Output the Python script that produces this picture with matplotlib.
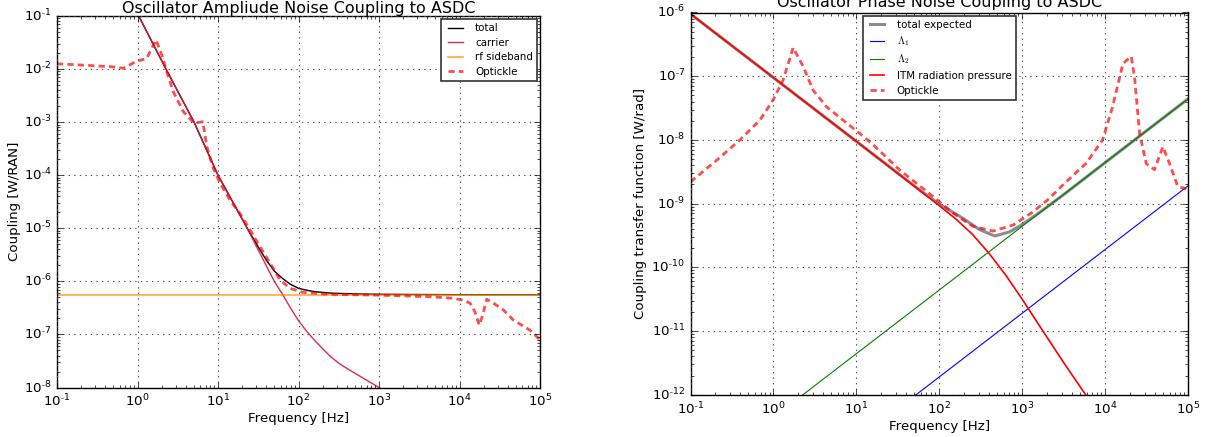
import numpy as np
import matplotlib
matplotlib.use("Agg")
import matplotlib.pyplot as plt
from matplotlib.ticker import FuncFormatter, LogLocator

plt.style.use("classic")
plt.rcParams["figure.facecolor"] = "white"
plt.rcParams["savefig.facecolor"] = "white"
plt.rcParams["lines.scale_dashes"] = False
plt.rcParams["font.family"] = ["DejaVu Sans"]

# ---------------- Left panel data: amplitude noise coupling ----------------
carrier_f = [0.5, 1.0, 2.26, 5.04, 10, 23.1, 31.6, 50.1, 63.1, 79.4, 100, 126, 158,
             200, 251, 316, 398, 501, 631, 794, 1000, 1585]
carrier_v = [0.89, 0.111, 1.0e-2, 1.0e-3, 1.0e-4, 1.0e-5, 3.9e-6, 1.0e-6, 5.75e-7,
             3.16e-7, 1.82e-7, 1.15e-7, 7.76e-8, 5.37e-8, 3.8e-8, 2.88e-8, 2.29e-8,
             1.86e-8, 1.51e-8, 1.23e-8, 1.0e-8, 6.3e-9]

total_f = [0.5, 1.0, 2.26, 5.04, 10, 23.1, 31.6, 39.8, 50.1, 63.1, 79.4, 100, 126,
           158, 251, 501, 1000, 1e4, 1e5]
total_v = [0.89, 0.111, 1.0e-2, 1.0e-3, 1.0e-4, 1.0e-5, 4.46e-6, 2.51e-6, 1.56e-6,
           1.14e-6, 8.8e-7, 7.4e-7, 6.8e-7, 6.4e-7, 6.0e-7, 5.8e-7, 5.7e-7, 5.6e-7, 5.6e-7]

rf_f = [0.1, 1e5]
rf_v = [5.6e-7, 5.6e-7]

opt_amp_f = [0.1, 0.251, 0.501, 0.667, 0.977, 1.30, 1.70, 2.0, 2.31, 2.79, 3.71, 5.04,
             6.46, 6.90, 7.24, 8.75, 10.6, 14.1, 18.7, 25.0, 33.3, 44.3, 58.9, 78.3,
             115, 245, 1000, 4730, 8320, 11170, 13490, 15490, 17620, 19410, 21780,
             26300, 35080, 46770, 59290, 75160, 95500, 1e5]
opt_amp_v = [1.26e-2, 1.17e-2, 1.10e-2, 1.035e-2, 1.41e-2, 1.58e-2, 3.55e-2, 1.86e-2,
             8.9e-3, 3.7e-3, 1.58e-3, 9.5e-4, 1.02e-3, 5.75e-4, 3.47e-4, 1.35e-4,
             7.1e-5, 3.4e-5, 1.9e-5, 9.3e-6, 4.5e-6, 2.2e-6, 1.07e-6, 7.4e-7, 6.2e-7,
             5.7e-7, 5.5e-7, 5.1e-7, 4.8e-7, 4.4e-7, 3.9e-7, 2.7e-7, 1.5e-7, 2.3e-7,
             4.6e-7, 3.9e-7, 2.9e-7, 1.86e-7, 1.5e-7, 1.2e-7, 8.5e-8, 8.1e-8]

# ---------------- Right panel data: phase noise coupling ----------------
itm_f = [0.1, 1, 10, 100, 158, 251, 398, 631, 1000, 1778, 3162, 5821, 10000]
itm_v = [9.5e-7, 9.5e-8, 9.5e-9, 9.3e-10, 5.75e-10, 3.3e-10, 1.66e-10, 7.6e-11,
         3.16e-11, 1.0e-11, 3.2e-12, 1.0e-12, 3.5e-13]

tot_ph_f = [0.1, 1, 10, 63, 100, 177, 308, 467, 706, 977, 1585, 3162, 1e4, 1e5]
tot_ph_v = [9.5e-7, 9.5e-8, 9.5e-9, 1.51e-9, 9.8e-10, 6.3e-10, 3.9e-10, 3.1e-10,
            3.6e-10, 4.6e-10, 7.1e-10, 1.38e-9, 4.4e-9, 4.4e-8]

lam1_f = [0.1, 1e5]
lam1_v = [1.9e-15, 1.9e-9]
lam2_f = [0.1, 1e5]
lam2_v = [4.4e-14, 4.4e-8]

opt_ph_f = [0.1, 0.207, 0.394, 0.687, 0.995, 1.31, 1.73, 2.29, 3.02, 4.38, 6.92, 11.0,
            15.8, 33.1, 84.1, 147, 255, 445, 776, 1349, 2042, 3388, 5888, 9333, 12300,
            16410, 20700, 22650, 26060, 31330, 39450, 49770, 59840, 75340, 90780, 1e5]
opt_ph_v = [2.19e-9, 4.8e-9, 1.0e-8, 2.04e-8, 4.27e-8, 8.7e-8, 2.8e-7, 1.41e-7, 6.0e-8,
            3.3e-8, 2.04e-8, 1.26e-8, 8.5e-9, 3.4e-9, 1.29e-9, 7.1e-10, 4.4e-10, 3.7e-10,
            4.6e-10, 7.4e-10, 1.15e-9, 2.19e-9, 4.27e-9, 1.0e-8, 3.3e-8, 1.58e-7, 2.04e-7,
            9.8e-8, 1.26e-8, 4.27e-9, 3.4e-9, 7.8e-9, 4.27e-9, 1.86e-9, 1.74e-9, 1.58e-9]


def pow10_fmt(v, pos):
    e = int(round(np.log10(v)))
    if e < 0:
        return r"$\mathdefault{10^{\text{-}%d}}$" % (-e)
    return r"$\mathdefault{10^{%d}}$" % e


fig = plt.figure(figsize=(12.10, 4.37), dpi=100)
ax1 = fig.add_axes([57 / 1210, 1 - 387.5 / 437, (540 - 57) / 1210, (387.5 - 16) / 437])
ax2 = fig.add_axes([690.5 / 1210, 1 - 394.7 / 437, (1188 - 690.5) / 1210, (394.7 - 12.5) / 437])

DASH = (4.5, 3)

# Left panel
ax1.loglog(total_f, total_v, color="k", lw=1.0, label="total")
ax1.loglog(carrier_f, carrier_v, color="crimson", lw=1.0, alpha=0.9, label="carrier")
ax1.loglog(rf_f, rf_v, color="darkorange", lw=1.2, alpha=0.75, label="rf sideband")
ax1.loglog(opt_amp_f, opt_amp_v, color="red", lw=2.0, alpha=0.7, dashes=DASH, label="Optickle")
ax1.set_xlim(1e-1, 1e5)
ax1.set_ylim(1e-8, 1e-1)
ax1.set_title("Oscillator Ampliude Noise Coupling to ASDC", fontsize=11.5, pad=2)
ax1.set_xlabel("Frequency [Hz]", fontsize=9.6, labelpad=2)
ax1.set_ylabel("Coupling [W/RAN]", fontsize=9.6)
ax1.yaxis.set_label_coords(-0.0735, 0.5)
ax1.grid(True, which="major", color="0.3", linestyle=":", lw=0.8)

# Right panel
ax2.loglog(tot_ph_f, tot_ph_v, color="gray", lw=2.2, alpha=0.9, label="total expected")
ax2.loglog(lam1_f, lam1_v, color="b", lw=0.8, label=r"$\Lambda_1$")
ax2.loglog(lam2_f, lam2_v, color="g", lw=0.8, label=r"$\Lambda_2$")
ax2.loglog(itm_f, itm_v, color="r", lw=1.2, label="ITM radiation pressure")
ax2.loglog(opt_ph_f, opt_ph_v, color="red", lw=2.0, alpha=0.7, dashes=DASH, label="Optickle")
ax2.set_xlim(1e-1, 1e5)
ax2.set_ylim(1e-12, 1e-6)
ax2.set_title("Oscillator Phase Noise Coupling to ASDC", fontsize=11.5, pad=4)
ax2.set_xlabel("Frequency [Hz]", fontsize=9.6, labelpad=2)
ax2.set_ylabel("Coupling transfer function [W/rad]", fontsize=9.6)
ax2.yaxis.set_label_coords(-0.088, 0.5)
ax2.grid(True, which="major", color="0.3", linestyle=":", lw=0.8)

for ax in (ax1, ax2):
    ax.tick_params(labelsize=9.6, pad=4)
    for axis in (ax.xaxis, ax.yaxis):
        axis.set_major_locator(LogLocator(base=10, numticks=20))
        axis.set_major_formatter(FuncFormatter(pow10_fmt))

leg1 = ax1.legend(loc="upper right", fontsize=7.4, borderaxespad=0.3, handlelength=2.0,
                  labelspacing=0.45, handletextpad=0.9)
leg2 = ax2.legend(loc="upper center", fontsize=7.4, borderaxespad=0.3, handlelength=2.0,
                  labelspacing=0.45, handletextpad=0.9)
for leg in (leg1, leg2):
    leg.get_frame().set_edgecolor("0.2")
    leg.get_frame().set_linewidth(1.2)

fig.savefig("out.png", dpi=100)
